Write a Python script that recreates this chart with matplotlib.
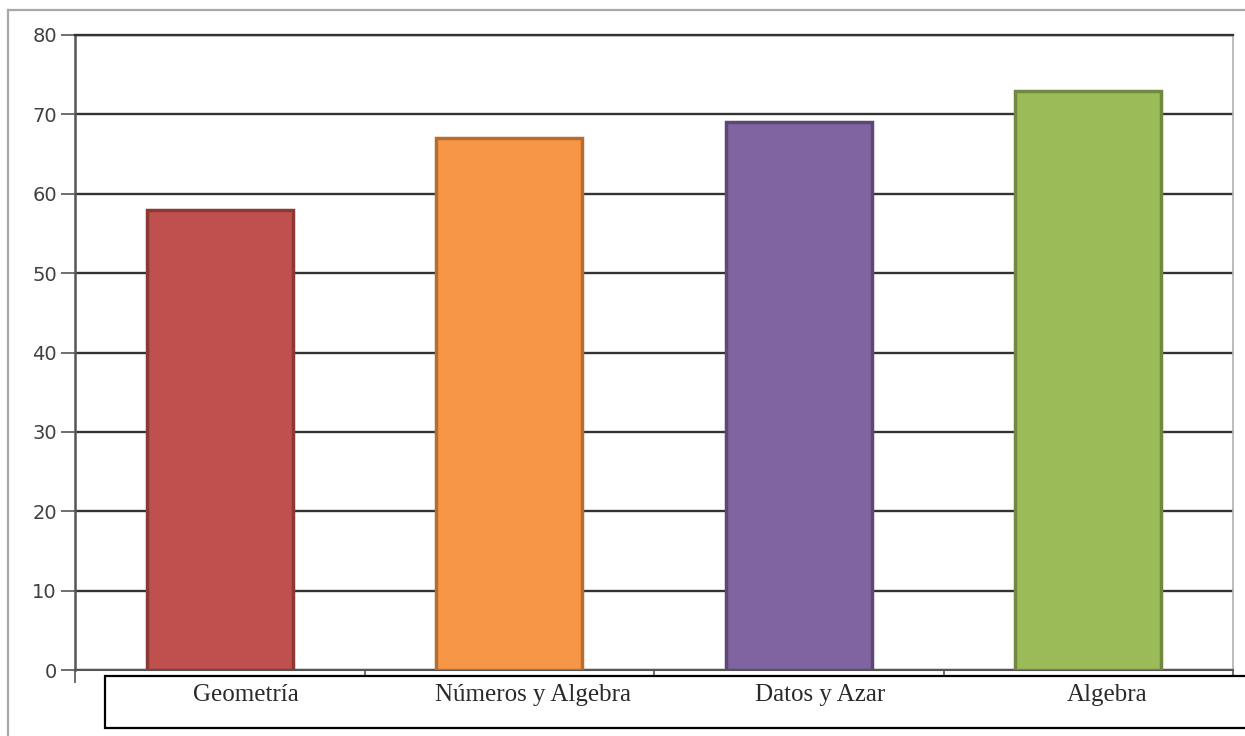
import matplotlib.pyplot as plt
from matplotlib.patches import Rectangle
from matplotlib.lines import Line2D

categories = ["Geometría", "Números y Algebra", "Datos y Azar", "Algebra"]
values = [58, 67, 69, 73]
colors = ["#C0504D", "#F79646", "#8064A2", "#9BBB59"]
edges = ["#8C3836", "#B66D31", "#5C4776", "#71893F"]
yticks = [0, 10, 20, 30, 40, 50, 60, 70, 80]

fig = plt.figure(figsize=(12.45, 7.36), dpi=100)
ax = fig.add_axes([75 / 1245, 1 - 670 / 736, 1158 / 1245, 635 / 736])

x = list(range(len(categories)))
ax.bar(x, values, width=0.505, color=colors, edgecolor=edges, linewidth=2.5, zorder=3)

ax.set_xlim(-0.5, len(categories) - 0.5)
ax.set_ylim(0, 80)
ax.set_yticks(yticks)
ax.yaxis.grid(True, color="#333333", linewidth=1.7, zorder=0)
ax.set_axisbelow(True)

# category boundary ticks on the x axis
ax.set_xticks([i - 0.5 for i in range(len(categories) + 1)])
ax.set_xticklabels([])
ax.tick_params(axis="x", direction="out", length=9, width=1.2, color="#555555")
ax.tick_params(axis="y", direction="out", length=10, width=1.2, color="#555555",
               labelsize=14, labelcolor="#404040", pad=3)

ax.spines["top"].set_color("#333333")
ax.spines["top"].set_linewidth(1.7)
ax.spines["right"].set_color("#b0b0b0")
ax.spines["right"].set_linewidth(1.2)
ax.spines["left"].set_color("#555555")
ax.spines["left"].set_linewidth(1.8)
ax.spines["bottom"].set_color("#555555")
ax.spines["bottom"].set_linewidth(1.5)

# label box below the axis, labels spread over the box
box_left, slot = 105, 287
fig.patches.append(Rectangle((box_left / 1245, 1 - 728 / 736), 0.99, 52 / 736,
                             transform=fig.transFigure, facecolor="white",
                             edgecolor="black", linewidth=1.6, zorder=5))
for i, cat in enumerate(categories):
    fig.text((box_left + slot * (i + 0.49)) / 1245, 1 - 695 / 736, cat,
             ha="center", va="center", fontsize=18, family="Liberation Serif",
             color="#2a2a2a", zorder=6)

# outer frame
fig.lines.append(Line2D([8 / 1245, 8 / 1245], [0, 1 - 10 / 736],
                        transform=fig.transFigure, color="#a8a8a8", linewidth=1.6))
fig.lines.append(Line2D([8 / 1245, 1], [1 - 10 / 736, 1 - 10 / 736],
                        transform=fig.transFigure, color="#a8a8a8", linewidth=1.6))

fig.savefig("out.png", dpi=100)
